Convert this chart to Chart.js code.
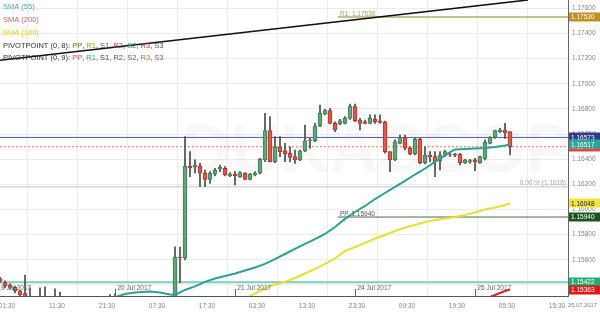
<!DOCTYPE html>
<html><head><meta charset="utf-8">
<script src="https://cdn.jsdelivr.net/npm/chart.js@4.4.0/dist/chart.umd.min.js"></script>
<style>html,body{margin:0;padding:0;background:#fff;overflow:hidden}canvas{display:block}</style>
</head><body>
<canvas id="c" width="600" height="320"></canvas>
<script>
// ---- tick labels / categories ----
const timeLabels = ["01:30","11:30","21:30","07:30","17:30","03:30","13:30","23:30","09:30","19:30","05:30","15:30"];
const timeTickIdx = [0.5,10.5,20.5,30.5,40.5,50.5,60.5,70.5,80.5,90.5,100.5,110.5];
const dateLabels = ["19 Jul 2017","20 Jul 2017","21 Jul 2017","24 Jul 2017","25 Jul 2017"];
const dateIdx = [-1,23,47,71,95];
const yTicks = [1.154,1.156,1.158,1.160,1.162,1.164,1.166,1.168,1.170,1.172,1.174,1.176];
const cornerDate = "25.07.2017";

// ---- hourly candles (index = bar number) ----
const open = [
1.15450,1.15418,1.15400,1.15380,1.15352,1.15331,1.15296,1.15264,1.15249,1.15280,
1.15249,1.15264,1.15241,1.15257,1.15233,1.15249,1.15225,1.15241,1.15217,1.15233,
1.15249,1.15264,1.15257,1.15280,1.15264,1.15249,1.15257,1.15241,1.15249,1.15233,
1.15241,1.15225,1.15233,1.15217,1.15225,1.15241,1.15622,1.15614,1.16346,1.16336,
1.16346,1.16288,1.16240,1.16280,1.16320,1.16328,1.16269,1.16282,1.16261,1.16288,
1.16240,1.16274,1.16288,1.16394,1.16627,1.16380,1.16499,1.16468,1.16447,1.16420,
1.16394,1.16465,1.16547,1.16547,1.16664,1.16759,1.16786,1.16685,1.16680,1.16685,
1.16725,1.16818,1.16712,1.16698,1.16685,1.16717,1.16706,1.16698,1.16460,1.16394,
1.16526,1.16571,1.16487,1.16441,1.16558,1.16372,1.16433,1.16420,1.16388,1.16433,
1.16441,1.16439,1.16439,1.16372,1.16378,1.16394,1.16372,1.16407,1.16526,1.16574,
1.16619,1.16632,1.16619];
const close = [
1.15429,1.15392,1.15380,1.15352,1.15320,1.15296,1.15264,1.15249,1.15280,1.15249,
1.15264,1.15241,1.15257,1.15233,1.15249,1.15225,1.15241,1.15217,1.15233,1.15249,
1.15264,1.15257,1.15280,1.15264,1.15249,1.15257,1.15241,1.15249,1.15233,1.15241,
1.15225,1.15233,1.15217,1.15225,1.15241,1.15622,1.15614,1.16346,1.16330,1.16354,
1.16288,1.16240,1.16288,1.16314,1.16336,1.16274,1.16282,1.16266,1.16293,1.16240,
1.16282,1.16288,1.16399,1.16627,1.16380,1.16495,1.16460,1.16441,1.16415,1.16394,
1.16465,1.16547,1.16553,1.16664,1.16765,1.16786,1.16685,1.16632,1.16706,1.16725,
1.16823,1.16706,1.16685,1.16685,1.16725,1.16698,1.16693,1.16460,1.16394,1.16539,
1.16571,1.16487,1.16441,1.16558,1.16372,1.16433,1.16420,1.16380,1.16433,1.16460,
1.16437,1.16431,1.16372,1.16394,1.16388,1.16378,1.16420,1.16534,1.16574,1.16627,
1.16632,1.16611,1.16499];
const high = [
1.15463,1.15432,1.15408,1.15388,1.15360,1.15479,1.15376,1.15304,1.15376,1.15384,
1.15296,1.15370,1.15344,1.15280,1.15264,1.15280,1.15264,1.15257,1.15249,1.15280,
1.15296,1.15296,1.15323,1.15331,1.15296,1.15280,1.15280,1.15272,1.15280,1.15264,
1.15264,1.15257,1.15249,1.15249,1.15264,1.15704,1.15702,1.16579,1.16460,1.16394,
1.16367,1.16314,1.16301,1.16328,1.16354,1.16341,1.16293,1.16301,1.16301,1.16293,
1.16288,1.16301,1.16407,1.16765,1.16738,1.16579,1.16579,1.16526,1.16499,1.16473,
1.16473,1.16672,1.16566,1.16685,1.16831,1.16797,1.16805,1.16698,1.16717,1.16738,
1.16839,1.16839,1.16725,1.16712,1.16752,1.16752,1.16752,1.16704,1.16460,1.16553,
1.16592,1.16592,1.16499,1.16566,1.16566,1.16499,1.16460,1.16460,1.16460,1.16473,
1.16447,1.16447,1.16447,1.16399,1.16399,1.16407,1.16425,1.16553,1.16579,1.16632,
1.16646,1.16685,1.16619];
const low = [
1.15416,1.15376,1.15368,1.15336,1.15304,1.15280,1.15249,1.15217,1.15233,1.15225,
1.15217,1.15201,1.15209,1.15209,1.15201,1.15201,1.15209,1.15201,1.15201,1.15217,
1.15233,1.15233,1.15233,1.15233,1.15225,1.15225,1.15217,1.15217,1.15209,1.15209,
1.15201,1.15201,1.15201,1.15193,1.15201,1.15225,1.15416,1.15599,1.16261,1.16288,
1.16181,1.16181,1.16208,1.16266,1.16301,1.16266,1.16261,1.16195,1.16256,1.16235,
1.16235,1.16266,1.16282,1.16380,1.16378,1.16372,1.16420,1.16380,1.16380,1.16367,
1.16388,1.16460,1.16487,1.16539,1.16658,1.16752,1.16680,1.16619,1.16674,1.16680,
1.16717,1.16698,1.16632,1.16680,1.16680,1.16685,1.16685,1.16447,1.16301,1.16388,
1.16521,1.16473,1.16433,1.16433,1.16362,1.16362,1.16380,1.16261,1.16314,1.16420,
1.16420,1.16420,1.16354,1.16367,1.16367,1.16309,1.16367,1.16394,1.16521,1.16566,
1.16611,1.16566,1.16433];

// ---- moving averages: [bar index, value] ----
const sma55 = [[20,1.15264],[25,1.15328],[27,1.15340],[30,1.15348],[32,1.15340],[34,1.15324],[35,1.15320],
[37,1.15360],[39,1.15388],[41,1.15424],[43,1.15451],[45,1.15471],[47,1.15491],[49,1.15515],[51,1.15539],
[53,1.15567],[55,1.15606],[57,1.15646],[59,1.15686],[61,1.15726],[63,1.15765],[65,1.15805],[67,1.15861],
[69,1.15925],[71,1.15980],[73,1.16028],[75,1.16083],[77,1.16131],[79,1.16179],[81,1.16227],[83,1.16278],
[85,1.16326],[87,1.16378],[89,1.16429],[90,1.16457],[91,1.16477],[93,1.16481],[95,1.16485],[97,1.16489],
[99,1.16497],[101,1.16509],[102,1.16517]];
const sma100 = [[47,1.15260],[49,1.15288],[51,1.15332],[53,1.15372],[55,1.15404],[57,1.15424],[59,1.15455],
[61,1.15491],[63,1.15527],[65,1.15567],[67,1.15610],[69,1.15670],[71,1.15702],[73,1.15734],[75,1.15769],
[77,1.15797],[79,1.15829],[81,1.15857],[83,1.15877],[85,1.15901],[87,1.15917],[89,1.15928],[91,1.15940],
[93,1.15956],[95,1.15976],[97,1.16000],[99,1.16016],[101,1.16036],[102,1.16048]];
const sma200 = [[94,1.15256],[96,1.15272],[97,1.15288],[99,1.15320],[101,1.15352],[102,1.15363]];

// ---- levels / trend line ----
const pivotStart = 67.6;
const r1Level = 1.17530;
const ppLevel = 1.15940;
const fibLevel = 1.1618;
const bidLevel = 1.16573;
const lastClose = 1.16499;
const s1Level = 1.15422;
const trendLine = [[0,1.17187],[105.6,1.17666]];
const xMax = 113.6;

const FONT = '"Liberation Sans", Arial, sans-serif';
Chart.defaults.font.family = FONT;

const idx = open.map((_, i) => i);
const bodyColor = idx.map(i => close[i] > open[i] ? '#62a57b' : (close[i] < open[i] ? '#e0584a' : '#333'));
const bodyBorder = idx.map(i => close[i] > open[i] ? '#3e7d56' : (close[i] < open[i] ? '#a8362c' : '#222'));

function hline(v, x0, x1, color, width, dash, order) {
  return { type:'line', data:[{x:x0,y:v},{x:x1,y:v}], borderColor:color, borderWidth:width,
    borderDash:dash||[], pointRadius:0, clip:0, order:order };
}
function pts(arr) { return arr.map(p => ({x:p[0], y:p[1]})); }

const valueBoxes = [
  {v:r1Level, bg:'#c0901c', fg:'#fff'},
  {v:bidLevel, bg:'#2c3a8c', fg:'#fff'},
  {v:lastClose, bg:'#e04848', fg:'#fff'},
  {v:1.16517, bg:'#2aa596', fg:'#fff'},
  {v:1.16048, bg:'#f0e63c', fg:'#222'},
  {v:ppLevel, bg:'#1d531d', fg:'#fff'},
  {v:s1Level, bg:'#22ad74', fg:'#fff'},
  {v:1.15363, bg:'#e01818', fg:'#fff'}
];

const legendLines = [
  [['SMA (55)','#3fb2aa']],
  [['SMA (200)','#c86464']],
  [['SMA (100)','#e2d400']],
  [['PIVOTPOINT (0, 8): ','#333'],['PP','#4d7a2e'],[', ','#333'],['R1','#b39320'],[', ','#333'],['S1','#555'],[', ','#333'],['R2','#b24444'],[', ','#333'],['S2','#3a8c6c'],[', ','#333'],['R3','#c03434'],[', ','#333'],['S3','#555']],
  [['PIVOTPOINT (0, 9): ','#333'],['PP','#d25070'],[', ','#333'],['R1','#22a2a2'],[', ','#333'],['S1','#444'],[', ','#333'],['R2','#555'],[', ','#333'],['S2','#666'],[', ','#333'],['R3','#a27c34'],[', ','#333'],['S3','#a25484']]
];

const decor = {
  id:'decor',
  beforeDatasetsDraw(chart) {
    const {ctx, chartArea:a} = chart;
    ctx.save();
    ctx.beginPath(); ctx.rect(a.left,a.top,a.right-a.left,a.bottom-a.top); ctx.clip();
    ctx.fillStyle = 'rgba(0,0,0,0.028)';
    ctx.font = 'bold 68px ' + FONT;
    ctx.textBaseline = 'alphabetic';
    ctx.fillText('DUKASCOPY', 182, 172);
    ctx.restore();
  },
  afterDatasetsDraw(chart) {
    const {ctx, chartArea:a, scales:{x, y}} = chart;
    ctx.save();
    ctx.font = '6.5px ' + FONT;
    ctx.textBaseline = 'alphabetic';
    // level captions
    ctx.fillStyle = '#b0a058'; ctx.textAlign = 'left';
    ctx.fillText('R1, ' + r1Level.toFixed(5), x.getPixelForValue(pivotStart) + 2, y.getPixelForValue(r1Level) - 1.5);
    ctx.fillStyle = '#555';
    ctx.fillText('PP, ' + ppLevel.toFixed(5), x.getPixelForValue(pivotStart) + 2, y.getPixelForValue(ppLevel) - 1.5);
    ctx.fillStyle = '#aaa'; ctx.textAlign = 'right';
    ctx.fillText('0.00 % (' + fibLevel + ')', a.right - 2, y.getPixelForValue(fibLevel) - 1.5);
    // date separators
    ctx.textAlign = 'left'; ctx.fillStyle = '#666'; ctx.strokeStyle = '#666'; ctx.lineWidth = 1;
    dateIdx.forEach((d, i) => {
      const px = Math.round(x.getPixelForValue(d)) + 0.5;
      ctx.beginPath(); ctx.moveTo(px, a.bottom - 7); ctx.lineTo(px, a.bottom); ctx.stroke();
      ctx.fillText(dateLabels[i], px + 2, a.bottom - 6);
    });
    // legend
    ctx.font = '7.5px ' + FONT;
    ctx.textBaseline = 'middle';
    const ys = [7, 20, 33, 45.5, 58];
    legendLines.forEach((line, li) => {
      let cx = 3;
      line.forEach(([t, c]) => { ctx.fillStyle = c; ctx.fillText(t, cx, ys[li]); cx += ctx.measureText(t).width; });
    });
    ctx.restore();
  },
  afterDraw(chart) {
    const {ctx, chartArea:a, scales:{y}} = chart;
    ctx.save();
    ctx.font = '6.5px ' + FONT;
    ctx.textBaseline = 'middle';
    ctx.textAlign = 'left';
    valueBoxes.forEach(b => {
      const py = y.getPixelForValue(b.v);
      ctx.fillStyle = b.bg; ctx.fillRect(a.right + 1, Math.round(py) - 4.5, 32, 9);
      ctx.fillStyle = b.fg; ctx.fillText(b.v.toFixed(5), a.right + 3, py + 0.5);
    });
    ctx.fillStyle = '#888';
    ctx.font = '5.8px ' + FONT;
    ctx.fillText(cornerDate, a.right, a.bottom + 9.5);
    ctx.restore();
  }
};

new Chart(document.getElementById('c'), {
  type:'bar',
  data:{ datasets:[
    hline(bidLevel, 0, xMax, '#4f5cae', 1, [], 20),
    hline(lastClose, 0, xMax, '#e0785a', 1, [2,2], 20),
    hline(fibLevel, 0, xMax, '#c4c4c4', 1, [], 20),
    hline(s1Level, 0, xMax, '#7ccfbf', 2, [], 20),
    hline(r1Level, pivotStart, xMax, '#c9c090', 2, [], 20),
    hline(ppLevel, pivotStart, xMax, '#4c6a4c', 1, [], 20),
    { type:'bar', data: idx.map(i => ({x:i, y:[low[i], high[i]]})), backgroundColor:'#4a4a4a',
      barThickness:1, grouped:false, clip:0, order:10 },
    { type:'bar', data: idx.map(i => ({x:i, y:[open[i], close[i]]})), backgroundColor:bodyColor,
      borderColor:bodyBorder, borderWidth:1, borderSkipped:false, barThickness:4,
      grouped:false, clip:0, order:9 },
    { type:'line', data:pts(sma200), borderColor:'#d42424', borderWidth:2, pointRadius:0, clip:0, order:3 },
    { type:'line', data:pts(sma100), borderColor:'#e6e030', borderWidth:2, pointRadius:0, clip:0, order:2 },
    { type:'line', data:pts(sma55), borderColor:'#2aa396', borderWidth:2, pointRadius:0, clip:0, order:1 },
    { type:'line', data:pts(trendLine), borderColor:'#111', borderWidth:1.6, pointRadius:0, clip:0, order:0 }
  ]},
  options:{
    responsive:false, animation:false, devicePixelRatio:1,
    layout:{ padding:0 },
    plugins:{ legend:{display:false}, tooltip:{enabled:false} },
    scales:{
      x:{ type:'linear', min:0, max:xMax, offset:false,
        grid:{ color:'#ececec', drawTicks:false },
        border:{ color:'#555', width:1 },
        afterBuildTicks: s => { s.ticks = timeTickIdx.map(v => ({value:v})); },
        afterFit: s => { s.height = 24; s.paddingLeft = 0; s.paddingRight = 0; },
        ticks:{ autoSkip:false, maxRotation:0, padding:6, labelOffset:4.5, color:'#888',
          font:{size:6.5}, callback:(v, i) => timeLabels[i] }
      },
      y:{ type:'linear', position:'right', min:1.15312, max:1.17666,
        grid:{ color:'#ececec', drawTicks:false },
        border:{ color:'#666', width:1 },
        afterBuildTicks: s => { s.ticks = yTicks.map(v => ({value:v})); },
        afterFit: s => { s.width = 32; s.paddingTop = 0; s.paddingBottom = 0; },
        ticks:{ padding:4, color:'#888', font:{size:6.5}, callback: v => v.toFixed(5) }
      }
    }
  },
  plugins:[decor]
});
</script>
</body></html>
